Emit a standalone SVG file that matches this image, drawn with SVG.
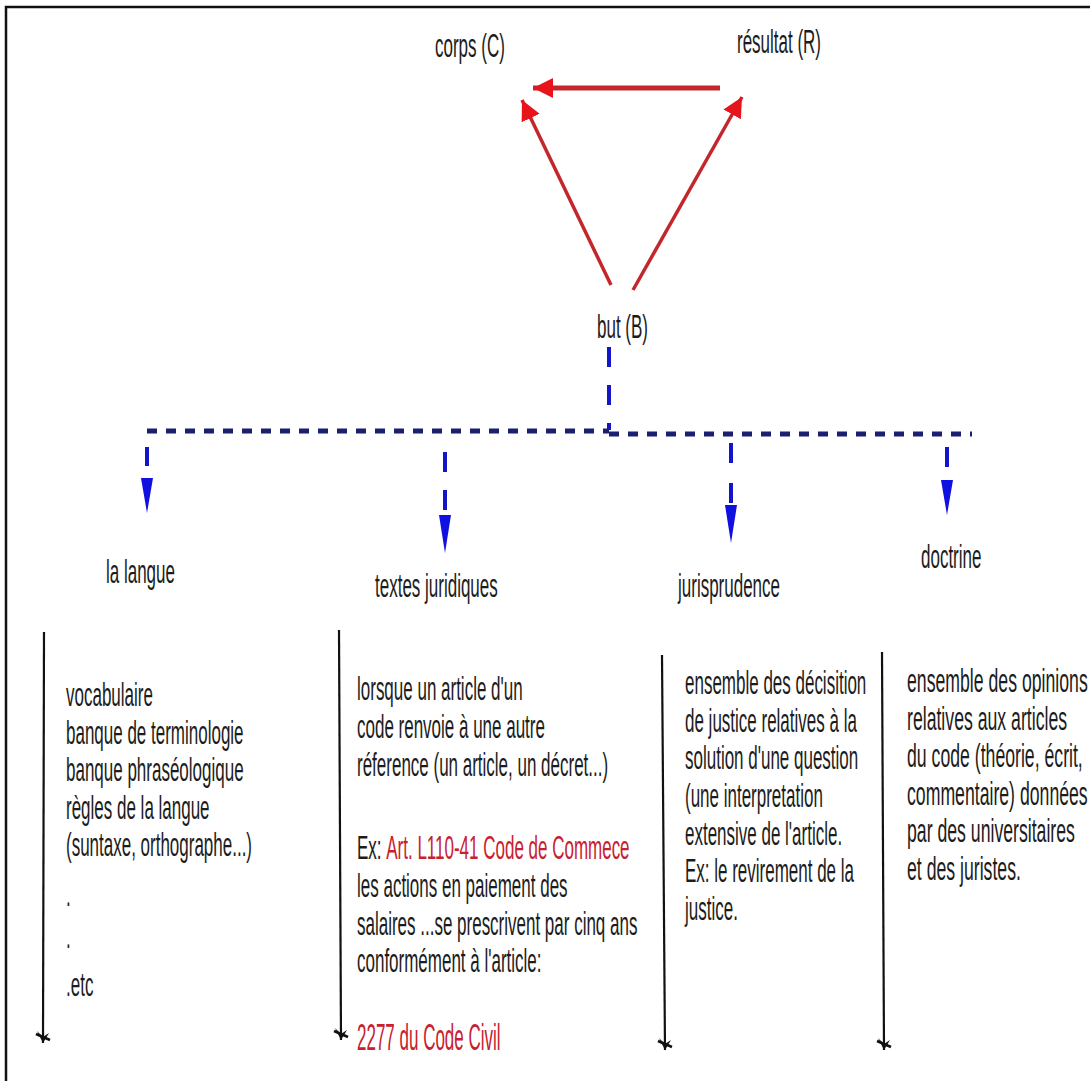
<svg xmlns="http://www.w3.org/2000/svg" width="1090" height="1081" viewBox="0 0 1090 1081">
<style>
.t{font-family:"Liberation Sans",Arial,sans-serif;font-size:34px;fill:#1c1c1c}
.red{fill:#c8202e}
.rl{stroke:#c3262b;fill:none;stroke-linecap:butt}
.bd{stroke:#1414c8;stroke-width:4;fill:none}
.hd{stroke:#1a1f70;stroke-width:5;fill:none;stroke-dasharray:10 9}
.bh{fill:#1010e0}
.kl{stroke:#111;stroke-width:2.2;fill:none}
.frame{stroke:#111;stroke-width:2.5;fill:none}
</style>
<defs>
<marker id="ra" markerUnits="userSpaceOnUse" markerWidth="24" markerHeight="22" refX="20" refY="10" orient="auto">
<path d="M0,0 L20,10 L0,20 Z" fill="#e8141c"/>
</marker>
<marker id="ka" markerUnits="userSpaceOnUse" markerWidth="18" markerHeight="22" refX="9" refY="18" orient="0" overflow="visible">
<path d="M3,6 L9,18 L15,8 L9,12 Z" fill="#111"/>
<path d="M2,9 L16,15" stroke="#111" stroke-width="2.5"/>
</marker>
</defs>
<path class="frame" d="M6,1081 L6,7 L1090,7"/>
<g id="connectors">
<line class="rl" x1="720" y1="88" x2="533" y2="88" stroke-width="5" marker-end="url(#ra)"/>
<line class="rl" x1="611" y1="285" x2="522" y2="100" stroke-width="3.5" marker-end="url(#ra)"/>
<line class="rl" x1="633" y1="290" x2="742" y2="97" stroke-width="3.5" marker-end="url(#ra)"/>
<line class="bd" x1="609" y1="347" x2="609" y2="430" stroke-dasharray="20 18"/>
<line class="hd" x1="147" y1="431" x2="609" y2="431"/>
<line class="hd" x1="609" y1="434" x2="972" y2="434"/>
<line class="bd" x1="147" y1="447" x2="147" y2="480" stroke-width="3" stroke-dasharray="19 100"/>
<polygon class="bh" points="141,478 153,478 147,513"/>
<line class="bd" x1="445" y1="452" x2="445" y2="518" stroke-width="3" stroke-dasharray="20 18"/>
<polygon class="bh" points="439,515 451,515 445,553"/>
<line class="bd" x1="731" y1="443" x2="731" y2="508" stroke-width="3" stroke-dasharray="20 20"/>
<polygon class="bh" points="725,505 737,505 731,543"/>
<line class="bd" x1="947" y1="447" x2="947" y2="482" stroke-width="3" stroke-dasharray="20 100"/>
<polygon class="bh" points="941,480 953,480 947,515"/>
<line class="kl" x1="44" y1="632" x2="43" y2="1043" marker-end="url(#ka)"/>
<line class="kl" x1="339" y1="630" x2="341" y2="1040" marker-end="url(#ka)"/>
<line class="kl" x1="662" y1="655" x2="665" y2="1050" marker-end="url(#ka)"/>
<line class="kl" x1="882" y1="652" x2="884" y2="1050" marker-end="url(#ka)"/>
</g>
<g id="corps" transform="translate(435,57) scale(0.5,1)"><text class="t">corps (C)</text></g>
<g id="resultat" transform="translate(737,53) scale(0.5,1)"><text class="t">résultat (R)</text></g>
<g id="but" transform="translate(597,338) scale(0.5,1)"><text class="t">but (B)</text></g>
<g id="la-langue" transform="translate(106,583) scale(0.5,1)"><text class="t">la langue</text></g>
<g id="textes-juridiques" transform="translate(375,597) scale(0.5,1)"><text class="t">textes juridiques</text></g>
<g id="jurisprudence" transform="translate(678,597) scale(0.5,1)"><text class="t">jurisprudence</text></g>
<g id="doctrine" transform="translate(921,568) scale(0.5,1)"><text class="t">doctrine</text></g>
<g id="langue-details" transform="translate(66,0) scale(0.5,1)">
<text class="t">
<tspan x="0" y="706">vocabulaire</tspan>
<tspan x="0" y="744">banque de terminologie</tspan>
<tspan x="0" y="781">banque phraséologique</tspan>
<tspan x="0" y="819">règles de la langue</tspan>
<tspan x="0" y="856">(suntaxe, orthographe...)</tspan>
<tspan x="0" y="906">.</tspan>
<tspan x="0" y="948">.</tspan>
<tspan x="0" y="996">.etc</tspan>
</text>
</g>
<g id="textes-details" transform="translate(357,0) scale(0.5,1)">
<text class="t">
<tspan x="0" y="700">lorsque un article d'un</tspan>
<tspan x="0" y="738">code renvoie à une autre</tspan>
<tspan x="0" y="776">réference (un article, un décret...)</tspan>
<tspan x="0" y="859">Ex: <tspan class="red">Art. L110-41 Code de Commece</tspan></tspan>
<tspan x="0" y="897">les actions en paiement des</tspan>
<tspan x="0" y="935">salaires ...se prescrivent par cinq ans</tspan>
<tspan x="0" y="972">conformément à l'article:</tspan>
</text>
</g>
<g id="textes-ref" transform="translate(357,1050) scale(0.5,1.1)"><text class="t red">2277 du Code Civil</text></g>
<g id="jurisprudence-details" transform="translate(685,0) scale(0.5,1)">
<text class="t">
<tspan x="0" y="694">ensemble des décisition</tspan>
<tspan x="0" y="732">de justice relatives à la</tspan>
<tspan x="0" y="769">solution d'une question</tspan>
<tspan x="0" y="807">(une interpretation</tspan>
<tspan x="0" y="845">extensive de l'article.</tspan>
<tspan x="0" y="882">Ex: le revirement de la</tspan>
<tspan x="0" y="920">justice.</tspan>
</text>
</g>
<g id="doctrine-details" transform="translate(907,0) scale(0.52,1)">
<text class="t">
<tspan x="0" y="692">ensemble des opinions</tspan>
<tspan x="0" y="730">relatives aux articles</tspan>
<tspan x="0" y="767">du code (théorie, écrit,</tspan>
<tspan x="0" y="805">commentaire) données</tspan>
<tspan x="0" y="842">par des universitaires</tspan>
<tspan x="0" y="880">et des juristes.</tspan>
</text>
</g>
</svg>
